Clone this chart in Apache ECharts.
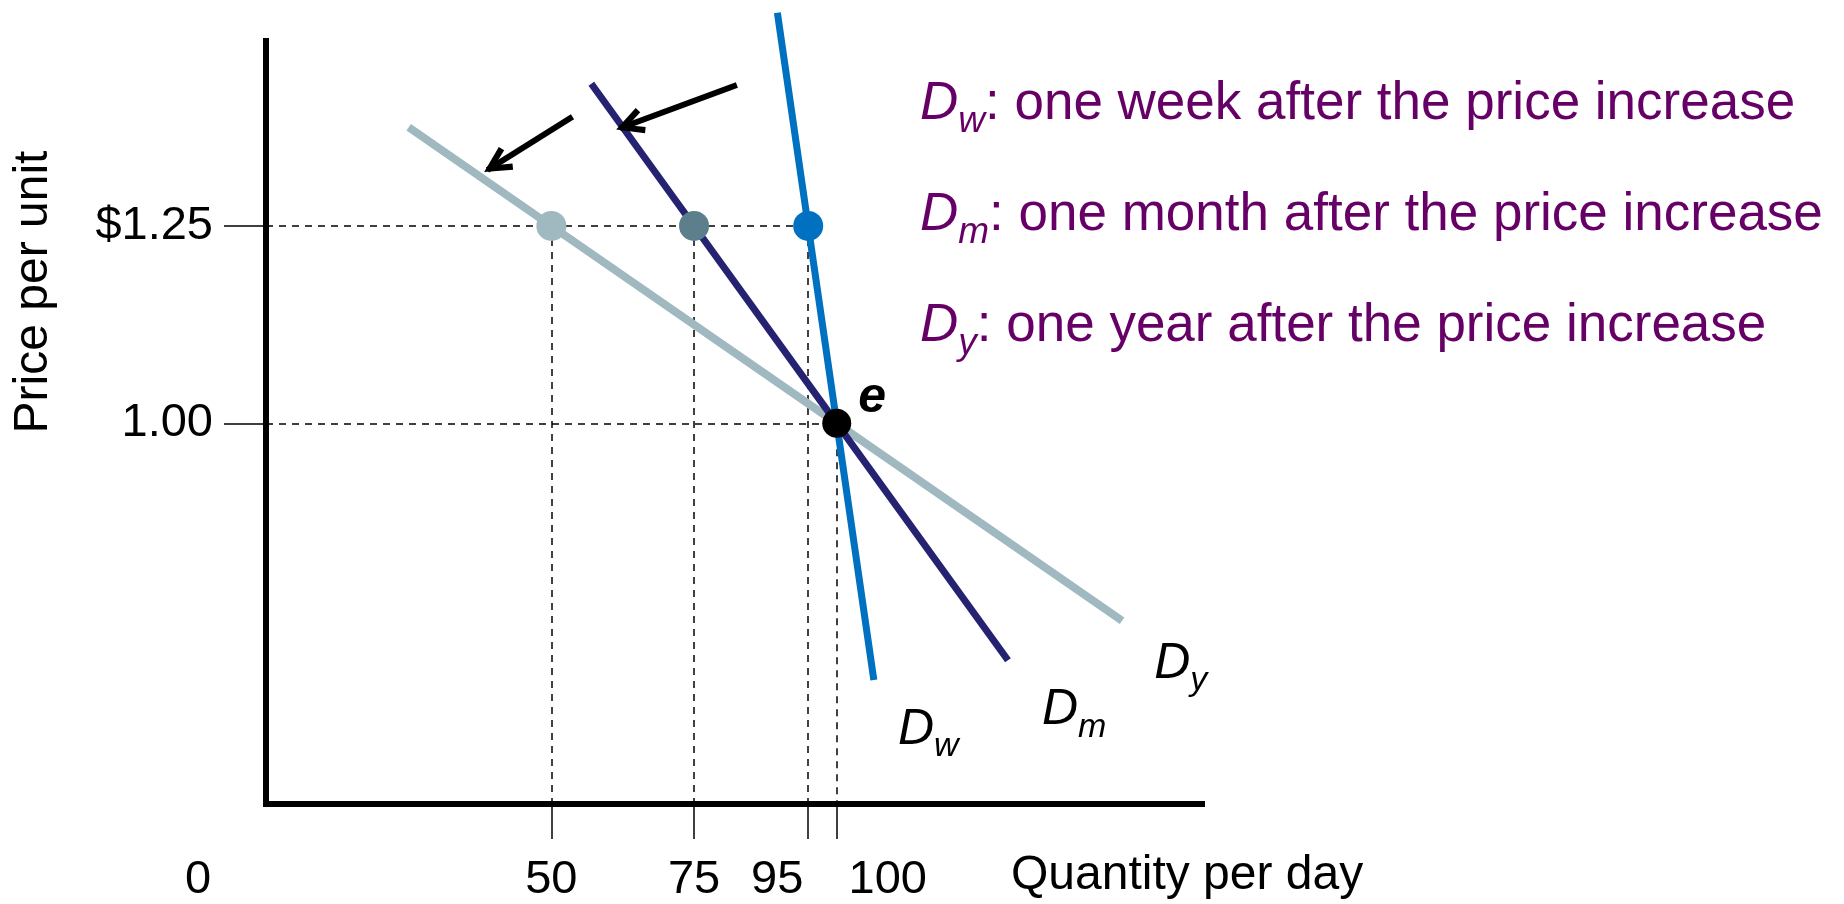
<!DOCTYPE html>
<html>
<head>
<meta charset="utf-8">
<script src="https://cdn.jsdelivr.net/npm/echarts@6/dist/echarts.min.js"></script>
<style>
  html, body { margin: 0; padding: 0; background: #fff; }
  #chart { width: 1844px; height: 904px; }
</style>
</head>
<body>
<div id="chart"></div>
<script>
// Price change and the quantities demanded over different horizons
const oldPrice = 1.00;
const newPrice = 1.25;
const oldQuantity = 100;
const quantityAfterWeek = 95;
const quantityAfterMonth = 75;
const quantityAfterYear = 50;

const quantityTicks = [0, 50, 75, 95, 100];
const quantityTickMarks = [50, 75, 95, 100];
const priceTicks = [1.00, 1.25];
const priceTickLabels = ['1.00', '$1.25'];

// Demand curves as [quantity, price], from the upper end to the lower end
const demandWeek = [[89.6, 1.52], [95, 1.25], [100, 1.00], [106.5, 0.675]];
const demandMonth = [[57, 1.43], [75, 1.25], [100, 1.00], [130, 0.70]];
const demandYear = [[25, 1.375], [50, 1.25], [100, 1.00], [150, 0.75]];

const curveSubscripts = ['w', 'm', 'y'];
const legendTexts = [
  'one week after the price increase',
  'one month after the price increase',
  'one year after the price increase'
];

// Arrows showing demand becoming flatter over time: [tail, head]
const shiftArrows = [
  [[82.5, 1.4285], [62.0, 1.3737]],
  [[53.7, 1.3883], [38.8, 1.3208]]
];

// ---- styling ----
const FONT = '"Liberation Sans", Arial, Helvetica, sans-serif';
const Q_MAX = 164;
const P_MIN = 0.518;
const P_MAX = 1.4842;
const COLOR_WEEK = '#0070C0';
const COLOR_MONTH = '#262272';
const COLOR_YEAR = '#A0B9C0';
const DOT_MONTH = '#5D7F8B';
const PURPLE = '#660066';

// narrow open chevron head; the two corner specks only fix the symbol box
const CHEVRON = 'path://M50,43 L74,89 L64,94 L50,66 L36,94 L26,89 Z ' +
  'M0,0 L0.3,0 L0,0.3 Z M100,100 L99.7,100 L100,99.7 Z';

// horizontal nudges for crowded tick labels
const xLabelNudge = { 0: -68, 95: -31, 100: 51 };
const xRich = {};
Object.keys(xLabelNudge).forEach(k => {
  const n = xLabelNudge[k];
  xRich['k' + k] = { padding: n < 0 ? [0, -2 * n, 0, 0] : [0, 0, 0, 2 * n] };
});

const chart = echarts.init(document.getElementById('chart'), null, { renderer: 'canvas' });

const guideSegments = [
  [[0, newPrice], [quantityAfterWeek, newPrice]],
  [[0, oldPrice], [oldQuantity, oldPrice]]
];
[quantityAfterYear, quantityAfterMonth, quantityAfterWeek].forEach(q => {
  guideSegments.push([[q, newPrice], [q, P_MIN]]);
});
guideSegments.push([[oldQuantity, oldPrice], [oldQuantity, P_MIN]]);

const dots = [
  { value: [quantityAfterYear, newPrice], itemStyle: { color: COLOR_YEAR, opacity: 1 } },
  { value: [quantityAfterMonth, newPrice], itemStyle: { color: DOT_MONTH, opacity: 1 } },
  { value: [quantityAfterWeek, newPrice], itemStyle: { color: COLOR_WEEK, opacity: 1 } },
  {
    value: [oldQuantity, oldPrice], symbolSize: 29, itemStyle: { color: '#000', opacity: 1 },
    label: {
      show: true, formatter: 'e', position: 'right', distance: 7, offset: [0, -25],
      fontSize: 50, fontWeight: 'bold', fontStyle: 'italic', color: '#000', opacity: 1, fontFamily: FONT
    }
  }
];

const curveLabelOffsets = [[24, 50], [34, 50], [32, 43]];
const curveEnds = [demandWeek, demandMonth, demandYear].map((c, i) => ({
  value: c[c.length - 1],
  label: {
    show: true,
    position: 'right',
    distance: 0,
    offset: curveLabelOffsets[i],
    formatter: '{d|D}{s|' + curveSubscripts[i] + '}'
  }
}));

function demandSeries(name, data, color, width, z) {
  return {
    name, type: 'line', data, z, clip: false, showSymbol: false, silent: true,
    lineStyle: { color, width, cap: 'butt', opacity: 1 }
  };
}

const option = {
  animation: false,
  backgroundColor: '#fff',
  grid: { left: 266, right: 642, top: 41, bottom: 100, containLabel: false },
  xAxis: {
    type: 'value', min: 0, max: Q_MAX,
    axisLine: { show: true, lineStyle: { color: '#000', width: 6, cap: 'square' } },
    splitLine: { show: false },
    axisTick: { show: true, customValues: quantityTickMarks, length: 35, lineStyle: { color: '#000', width: 1.5 } },
    axisLabel: {
      customValues: quantityTicks, margin: 53, fontSize: 47, color: '#000', fontFamily: FONT,
      formatter: v => (xLabelNudge[v] !== undefined ? '{k' + v + '|' + v + '}' : String(v)),
      rich: xRich
    }
  },
  yAxis: {
    type: 'value', min: P_MIN, max: P_MAX,
    axisLine: { show: true, lineStyle: { color: '#000', width: 6, cap: 'square' } },
    splitLine: { show: false },
    axisTick: { show: true, customValues: priceTicks, length: 42, lineStyle: { color: '#000', width: 1.5 } },
    axisLabel: {
      customValues: priceTicks, margin: 53, fontSize: 47, color: '#000', fontFamily: FONT,
      formatter: v => priceTickLabels[priceTicks.indexOf(v)] ?? ''
    }
  },
  series: [
    {
      type: 'lines', coordinateSystem: 'cartesian2d', z: 1, silent: true,
      data: guideSegments.map(c => ({ coords: c })),
      lineStyle: { color: '#000', width: 1.5, type: [7, 6], opacity: 1 }
    },
    demandSeries('Dy', demandYear, COLOR_YEAR, 8, 2),
    demandSeries('Dm', demandMonth, COLOR_MONTH, 7, 3),
    demandSeries('Dw', demandWeek, COLOR_WEEK, 7, 4),
    {
      type: 'lines', coordinateSystem: 'cartesian2d', z: 5, silent: true,
      data: shiftArrows.map(c => ({ coords: c })),
      symbol: ['none', CHEVRON], symbolSize: [0, 56],
      lineStyle: { color: '#000', width: 6, opacity: 1 },
      itemStyle: { color: '#000', opacity: 1 }
    },
    {
      type: 'scatter', z: 6, symbolSize: 30, silent: true,
      itemStyle: { opacity: 1 },
      data: dots
    },
    {
      type: 'scatter', z: 6, symbolSize: 0.1, silent: true,
      itemStyle: { color: 'rgba(0,0,0,0)', opacity: 1 },
      label: {
        color: '#000', opacity: 1, fontFamily: FONT,
        rich: {
          d: { fontSize: 50, fontStyle: 'italic', lineHeight: 68, color: '#000', fontFamily: FONT },
          s: { fontSize: 34, fontStyle: 'italic', lineHeight: 34, verticalAlign: 'bottom', color: '#000', fontFamily: FONT }
        }
      },
      data: curveEnds
    }
  ],
  graphic: [
    {
      type: 'text', x: 34, y: 292, rotation: Math.PI / 2, silent: true,
      style: {
        text: 'Price per unit', fill: '#000', fontSize: 48, fontFamily: FONT,
        align: 'center', verticalAlign: 'middle', textAlign: 'center', textVerticalAlign: 'middle'
      }
    },
    {
      type: 'text', x: 1011, y: 876, silent: true,
      style: {
        text: 'Quantity per day', fill: '#000', fontSize: 48, fontFamily: FONT,
        align: 'left', verticalAlign: 'middle', textAlign: 'left', textVerticalAlign: 'middle'
      }
    }
  ].concat(legendTexts.map((t, i) => ({
    type: 'text', x: 920, y: 104 + i * 111, silent: true,
    style: {
      text: '{d|D}{s|' + curveSubscripts[i] + '}{t|: ' + t + '}',
      fill: PURPLE, fontSize: 53, fontFamily: FONT,
      align: 'left', verticalAlign: 'middle', textAlign: 'left', textVerticalAlign: 'middle',
      rich: {
        d: { fontSize: 53, fontStyle: 'italic', lineHeight: 72, fill: PURPLE, color: PURPLE, fontFamily: FONT },
        s: { fontSize: 37, fontStyle: 'italic', lineHeight: 37, verticalAlign: 'bottom', fill: PURPLE, color: PURPLE, fontFamily: FONT },
        t: { fontSize: 53, lineHeight: 72, fill: PURPLE, color: PURPLE, fontFamily: FONT }
      }
    }
  })))
};

chart.setOption(option);
</script>
</body>
</html>
